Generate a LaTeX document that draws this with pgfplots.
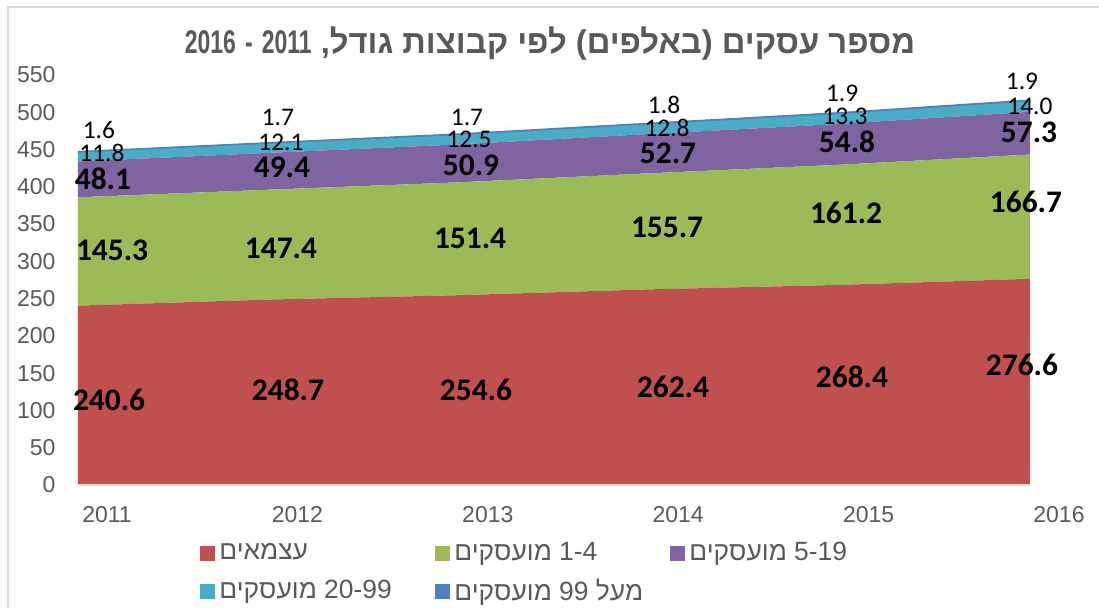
\documentclass[border=0pt]{standalone}
\usepackage{pgfplots}
\usepackage{pgfplotstable}
\pgfplotsset{compat=1.18}
\usepackage{fontspec}
\setmainfont{Liberation Sans}
\newfontfamily\hebfont[Script=Hebrew]{Liberation Sans}
\newfontfamily\titlefont[Script=Hebrew]{Liberation Sans}
\newfontfamily\titledig[FakeStretch=0.7]{Liberation Sans}
\newfontfamily\lblfont{Carlito}
\TeXXeTstate=1
\definecolor{cRed}{HTML}{C0504D}
\definecolor{cGreen}{HTML}{9BBB59}
\definecolor{cPurple}{HTML}{8064A2}
\definecolor{cTeal}{HTML}{4BACC6}
\definecolor{cBlue}{HTML}{4F81BD}
\definecolor{tgray}{HTML}{595959}
\definecolor{bgray}{HTML}{D9D9D9}
\newcommand\lblbig{\lblfont\bfseries\fontsize{15.7pt}{18pt}\selectfont}
\newcommand\lblsmall{\lblfont\fontsize{12.7pt}{15pt}\selectfont}
\newcommand\tickfont{\fontsize{11.5pt}{13pt}\selectfont}
\newcommand\legfont{\fontsize{13.2pt}{15pt}\selectfont}

\pgfplotstableread{
year self s14 s519 s2099 s99
2011 240.6 145.3 48.1 11.8 1.6
2012 248.7 147.4 49.4 12.1 1.7
2013 254.6 151.4 50.9 12.5 1.7
2014 262.4 155.7 52.7 12.8 1.8
2015 268.4 161.2 54.8 13.3 1.9
2016 276.6 166.7 57.3 14.0 1.9
}\data

\pgfplotstableread{
x y l
2011.163 114.0 240.6
2012.103 127.4 248.7
2013.090 127.4 254.6
2014.125 131.5 262.4
2015.065 144.9 268.4
2015.958 161.0 276.6
}\lblRed
\pgfplotstableread{
x y l
2011.179 315.2 145.3
2012.066 317.9 147.4
2013.059 331.3 151.4
2014.094 346.1 155.7
2015.034 364.9 161.2
2015.979 379.6 166.7
}\lblGreen
\pgfplotstableread{
x y l
2011.131 410.5 48.1
2012.071 426.6 49.4
2013.064 429.2 50.9
2014.099 445.3 52.7
2015.039 460.1 54.8
2015.995 473.5 57.3
}\lblPurple
\pgfplotstableread{
x y l
2011.126 445.3 11.8
2012.066 460.1 12.1
2013.054 464.1 12.5
2014.094 478.9 12.8
2015.028 495.0 13.3
2016.000 508.4 14.0
}\lblTeal
\pgfplotstableread{
x y l
2011.110 476.2 1.6
2012.050 493.6 1.7
2013.043 493.6 1.7
2014.078 509.7 1.8
2015.013 525.8 1.9
2015.958 541.9 1.9
}\lblBlue

\begin{document}
\begin{tikzpicture}
\useasboundingbox (0,0) rectangle (549.5pt,304pt);
\draw[bgray, line width=1pt] (4pt,0pt) -- (4pt,300.5pt) -- (549.5pt,300.5pt);
\node[anchor=base, text=tgray, inner sep=0pt, font=\titlefont\fontsize{16.4pt}{19pt}\selectfont\bfseries] at (275pt,277pt)
  {\beginR מספר עסקים (באלפים) לפי קבוצות גודל, \beginL{\titledig 2011}\endL{} {\titledig -} \beginL{\titledig 2016}\endL\endR};

\begin{axis}[
  at={(39pt,61.5pt)}, anchor=south west,
  width=476pt, height=205pt, scale only axis,
  xmin=2011, xmax=2016, ymin=0, ymax=550,
  stack plots=y, area style,
  axis lines=left,
  axis line style={-},
  x axis line style={bgray, line width=0.75pt},
  y axis line style={draw=none},
  major tick length=0pt,
  xtick={2011,2012,2013,2014,2015,2016},
  xticklabels={2011,2012,2013,2014,2015,2016},
  ytick={0,50,...,550},
  /pgf/number format/assume math mode=true,
  tick label style={font=\tickfont, text=tgray},
  yticklabel style={anchor=east, xshift=-7.7pt},
  xticklabel style={anchor=north, xshift=14.5pt, yshift=-7pt},
  legend columns=3,
  legend cell align=left,
  legend image code/.code={\fill[#1, draw=none] (0pt,-3.75pt) rectangle (7.5pt,3.75pt);},
  legend style={at={(0,0)}, anchor=north west, xshift=58pt, yshift=-24.5pt,
    draw=none, fill=none, font=\legfont, text=tgray, row sep=3.5pt,
    /tikz/every odd column/.append style={column sep=0pt},
    /tikz/every even column/.append style={column sep=0pt}},
]
\addplot[fill=cRed, draw=none] table[x=year, y=self] {\data} \closedcycle;
\addlegendentry{\makebox[106pt][l]{{\hebfont\beginR עצמאים\endR}}}
\addplot[fill=cGreen, draw=none] table[x=year, y=s14] {\data} \closedcycle;
\addlegendentry{\makebox[106pt][l]{{\hebfont\beginR\beginL 1-4\endL{} מועסקים\endR}}}
\addplot[fill=cPurple, draw=none] table[x=year, y=s519] {\data} \closedcycle;
\addlegendentry{\makebox[106pt][l]{{\hebfont\beginR\beginL 5-19\endL{} מועסקים\endR}}}
\addplot[fill=cTeal, draw=none] table[x=year, y=s2099] {\data} \closedcycle;
\addlegendentry{\makebox[106pt][l]{{\hebfont\beginR\beginL 20-99\endL{} מועסקים\endR}}}
\addplot[fill=cBlue, draw=cBlue, line width=0.5pt] table[x=year, y=s99] {\data} \closedcycle;
\addlegendentry{\makebox[106pt][l]{{\hebfont\beginR מעל \beginL 99\endL{} מועסקים\endR}}}
\end{axis}

\begin{axis}[
  at={(39pt,61.5pt)}, anchor=south west,
  width=476pt, height=205pt, scale only axis,
  xmin=2011, xmax=2016, ymin=0, ymax=550,
  hide axis, clip=false,
  point meta=explicit symbolic,
  nodes near coords,
]
\addplot[draw=none, mark=none, nodes near coords style={anchor=center, inner sep=0pt, text=black, font=\lblbig}] table[x=x, y=y, meta=l] {\lblRed};
\addplot[draw=none, mark=none, nodes near coords style={anchor=center, inner sep=0pt, text=black, font=\lblbig}] table[x=x, y=y, meta=l] {\lblGreen};
\addplot[draw=none, mark=none, nodes near coords style={anchor=center, inner sep=0pt, text=black, font=\lblbig}] table[x=x, y=y, meta=l] {\lblPurple};
\addplot[draw=none, mark=none, nodes near coords style={anchor=center, inner sep=0pt, text=black, font=\lblsmall}] table[x=x, y=y, meta=l] {\lblTeal};
\addplot[draw=none, mark=none, nodes near coords style={anchor=center, inner sep=0pt, text=black, font=\lblsmall}] table[x=x, y=y, meta=l] {\lblBlue};
\end{axis}
\end{tikzpicture}
\end{document}
